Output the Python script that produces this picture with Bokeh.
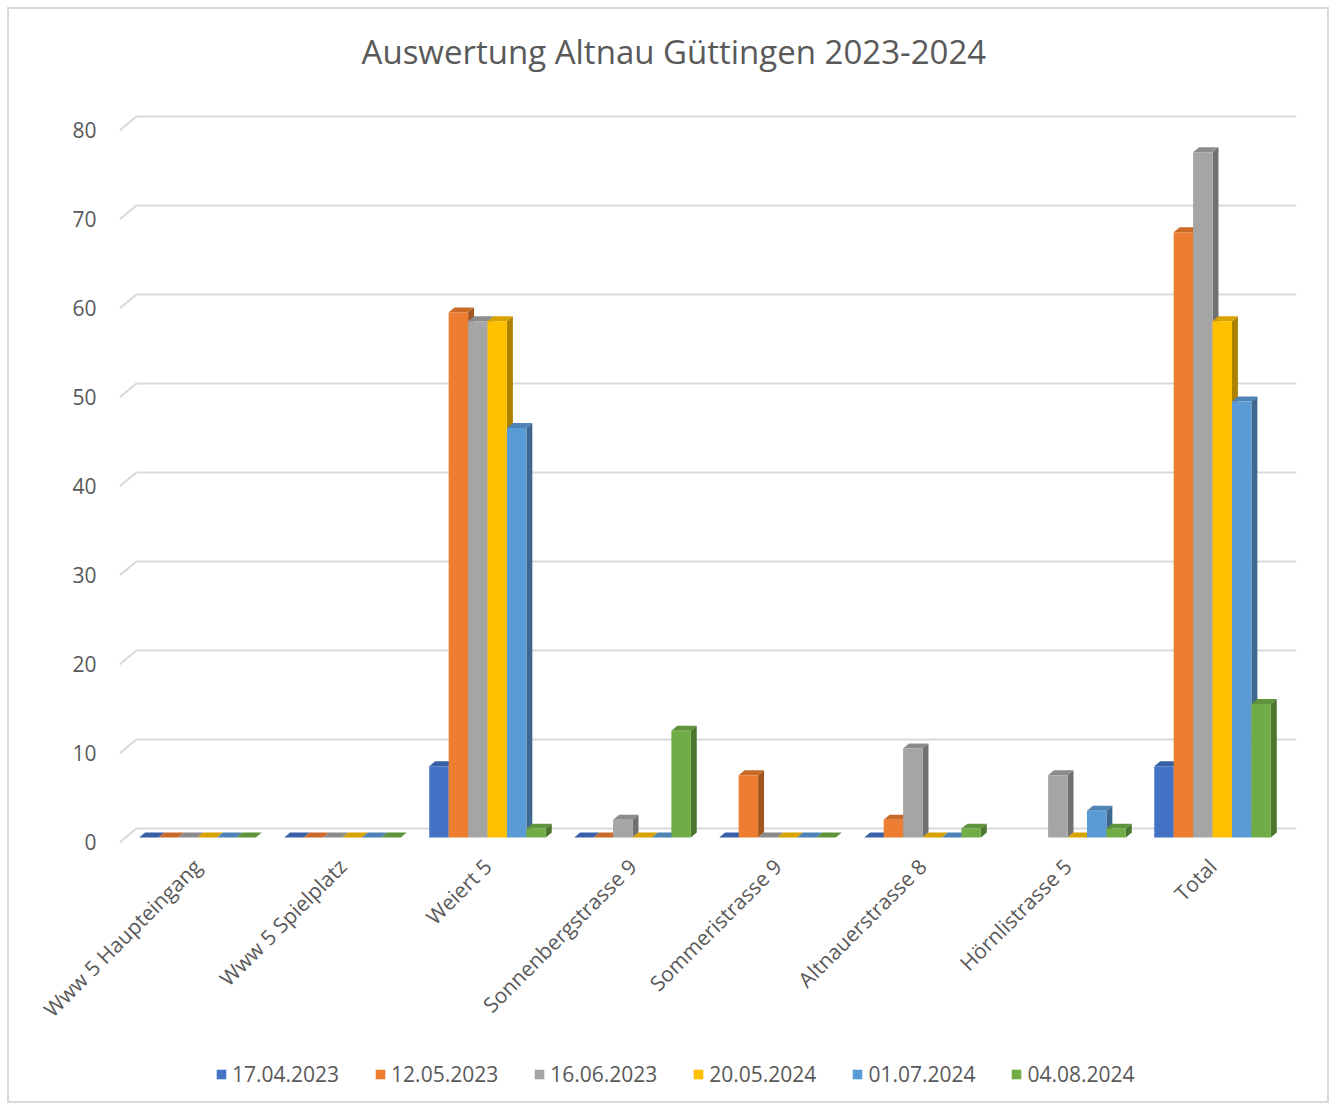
import math
from bokeh.plotting import figure
from bokeh.layouts import column
from bokeh.models import Range1d, LinearAxis, FixedTicker, Legend, LegendItem, ColumnDataSource, Label
from bokeh.embed import file_html
from bokeh.resources import INLINE

# ---------------- data ----------------
categories = ["Www 5 Haupteingang", "Www 5 Spielplatz", "Weiert 5", "Sonnenbergstrasse 9",
              "Sommeristrasse 9", "Altnauerstrasse 8", "Hörnlistrasse 5", "Total"]
series_names = ["17.04.2023", "12.05.2023", "16.06.2023", "20.05.2024", "01.07.2024", "04.08.2024"]
s_17_04_2023 = [0, 0, 8, 0, 0, 0, None, 8]
s_12_05_2023 = [0, 0, 59, 0, 7, 2, None, 68]
s_16_06_2023 = [0, 0, 58, 2, 0, 10, 7, 77]
s_20_05_2024 = [0, 0, 58, 0, 0, 0, 0, 58]
s_01_07_2024 = [0, 0, 46, 0, 0, 0, 3, 49]
s_04_08_2024 = [0, 0, 1, 12, 0, 1, 1, 15]
series_values = [s_17_04_2023, s_12_05_2023, s_16_06_2023, s_20_05_2024, s_01_07_2024, s_04_08_2024]
y_ticks = [0, 10, 20, 30, 40, 50, 60, 70, 80]
title_text = "Auswertung Altnau Güttingen 2023-2024"

# ---------------- style ----------------
colors = ["#4472C4", "#ED7D31", "#A5A5A5", "#FFC000", "#5B9BD5", "#70AD47"]
FONT = "Open Sans"
TEXT = "#595959"
GRID = "#d9d9d9"

def shade(hex_color, f):
    h = hex_color.lstrip("#")
    r, g, b = (int(h[i:i + 2], 16) for i in (0, 2, 4))
    return "#%02x%02x%02x" % (int(r * f), int(g * f), int(b * f))

bar_w = 0.134      # front face width (category units)
dx, dy = 0.041, 0.56   # bar depth offset
front_shift = 0.56     # label plane lies in front of bar plane
back_shift = 1.01      # wall (grid) plane lies behind bar plane
wall_left, front_left = -0.421, -0.538

x_start, x_end = front_left, 7.579
y_start, y_end = -1.01, 82.13
FW, BL, BR = 1177, 110, 31   # frame width, left/right borders (px)

xr = Range1d(x_start, x_end)

# ---------------- title strip ----------------
title_fig = figure(frame_width=FW, frame_height=97, x_range=xr, y_range=Range1d(0, 97),
                   output_backend="svg", toolbar_location=None,
                   x_axis_location=None, y_axis_location=None,
                   min_border_left=BL, min_border_right=BR, min_border_top=0, min_border_bottom=0)
title_fig.outline_line_color = None
title_fig.grid.visible = False
title_fig.add_layout(Label(x=3.285, y=55, text=title_text, text_align="center",
                           text_baseline="middle", text_font=FONT, text_font_size="33px",
                           text_color=TEXT))

# ---------------- main chart ----------------
p = figure(frame_width=FW, frame_height=740,
           x_range=xr, y_range=Range1d(y_start, y_end),
           output_backend="svg", toolbar_location=None,
           min_border_left=BL, min_border_right=BR, min_border_top=0, min_border_bottom=200,
           y_axis_location=None)
p.outline_line_color = None
p.grid.visible = False
p.background_fill_color = "white"

# front-plane y axis (labels)
p.extra_y_ranges = {"front": Range1d(y_start + front_shift, y_end + front_shift)}
yax = LinearAxis(y_range_name="front", ticker=FixedTicker(ticks=y_ticks))
yax.axis_line_color = None
yax.major_tick_line_color = None
yax.minor_tick_line_color = None
yax.major_label_text_font = FONT
yax.major_label_text_font_size = "21px"
yax.major_label_text_color = TEXT
yax.major_label_standoff = 17
p.add_layout(yax, "left")

# x axis with category labels
xax = p.xaxis[0]
xax.ticker = FixedTicker(ticks=list(range(len(categories))))
xax.major_label_overrides = {i: c for i, c in enumerate(categories)}
xax.major_label_orientation = math.pi / 4
xax.axis_line_color = None
xax.major_tick_line_color = None
xax.minor_tick_line_color = None
xax.major_label_text_font = FONT
xax.major_label_text_font_size = "21px"
xax.major_label_text_color = TEXT
xax.major_label_standoff = 10

# gridlines on the back wall plus slanted floor-edge pieces
gsrc = ColumnDataSource(dict(
    xa=[wall_left] * len(y_ticks), xb=[x_end] * len(y_ticks),
    yw=[v + back_shift for v in y_ticks],
    xf=[front_left] * len(y_ticks), yf=[v - front_shift for v in y_ticks]))
p.segment(x0="xa", y0="yw", x1="xb", y1="yw", source=gsrc, line_color=GRID, line_width=2)
p.segment(x0="xf", y0="yf", x1="xa", y1="yw", source=gsrc, line_color=GRID, line_width=2)

# ---------------- legend strip ----------------
leg_fig = figure(frame_width=FW, frame_height=55, x_range=Range1d(0, 1), y_range=Range1d(0, 1),
                 output_backend="svg", toolbar_location=None,
                 x_axis_location=None, y_axis_location=None,
                 min_border_left=BL, min_border_right=BR, min_border_top=0, min_border_bottom=0)
leg_fig.outline_line_color = None
leg_fig.grid.visible = False

# 3D bars
n = len(series_values)
items = []
for j, vals in enumerate(series_values):
    xs, tops = [], []
    for i, v in enumerate(vals):
        if v is None:
            continue
        xs.append(i + (j - (n - 1) / 2) * bar_w)
        tops.append(v)
    side_x, side_y, top_x, top_y = [], [], [], []
    for x, v in zip(xs, tops):
        x0, x1 = x - bar_w / 2, x + bar_w / 2
        side_x.append([x1, x1, x1 + dx, x1 + dx])
        side_y.append([0, v, v + dy, dy])
        top_x.append([x0, x1, x1 + dx, x0 + dx])
        top_y.append([v, v, v + dy, v + dy])
    c = colors[j]
    p.patches(side_x, side_y, fill_color=shade(c, 0.68), line_color=None)
    p.patches(top_x, top_y, fill_color=shade(c, 0.85), line_color=None)
    p.vbar(x=xs, top=tops, bottom=0, width=bar_w, fill_color=c, line_color=None)
    # legend key renderer (zero-size, only its style is shown in the legend)
    key = leg_fig.vbar(x=[0.5], top=[0], bottom=[0], width=0, fill_color=c, line_color=None)
    items.append(LegendItem(label=series_names[j], renderers=[key]))

legend = Legend(items=items, orientation="horizontal", location=(96, 13))
legend.border_line_color = None
legend.background_fill_alpha = 0
legend.label_text_font = FONT
legend.label_text_font_size = "21px"
legend.label_text_color = TEXT
legend.glyph_width = 12
legend.glyph_height = 12
legend.spacing = 35
legend.label_standoff = 5
legend.margin = 0
legend.padding = 0
leg_fig.add_layout(legend, "center")

layout = column(title_fig, p, leg_fig, spacing=0,
                styles={"border": "2px solid #d9d9d9", "margin-left": "7px", "margin-top": "7px"})

open("out.html", "w").write(file_html(layout, INLINE))
